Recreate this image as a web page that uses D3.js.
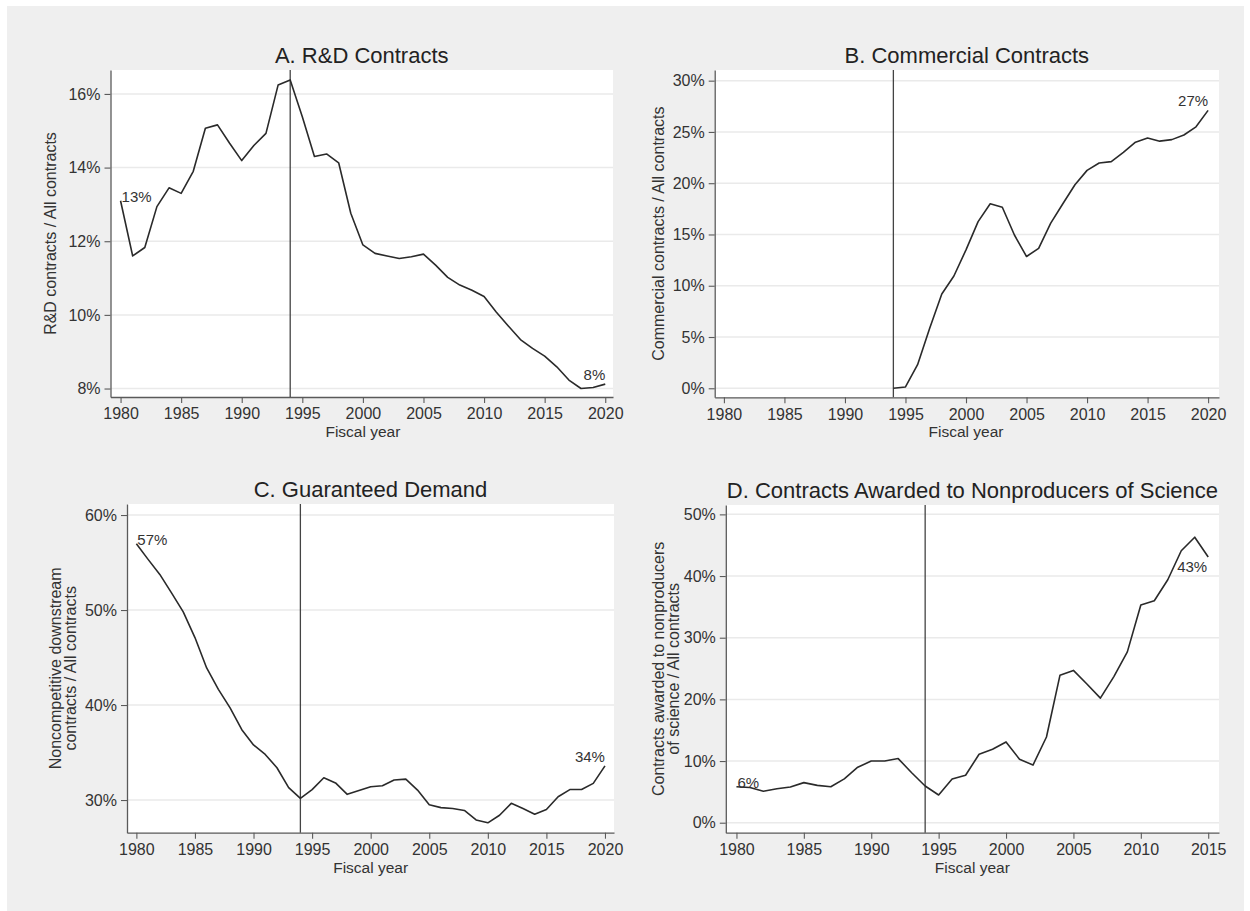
<!DOCTYPE html>
<html>
<head>
<meta charset="utf-8">
<script src="https://cdn.jsdelivr.net/npm/d3@7"></script>
<style>
  html, body { margin: 0; padding: 0; background: #ffffff; }
  svg { display: block; font-family: "Liberation Sans", Arial, sans-serif; }
</style>
</head>
<body>
<svg id="chart" width="1250" height="911"></svg>
<script>
// ---------------- DATA ----------------
const yearsFull = d3.range(1980, 2021);          // 1980..2020
const yearsCommercial = d3.range(1994, 2021);    // 1994..2020
const yearsNonproducer = d3.range(1980, 2016);   // 1980..2015

// A. R&D contracts / all contracts (%)
const rdShare = [13.1, 11.6, 11.83, 12.94, 13.45, 13.3, 13.9, 15.07, 15.16, 14.66,
                 14.19, 14.6, 14.93, 16.24, 16.38, 15.38, 14.3, 14.37, 14.13, 12.76,
                 11.9, 11.67, 11.6, 11.53, 11.58, 11.65, 11.35, 11.02, 10.81, 10.67,
                 10.5, 10.08, 9.7, 9.33, 9.09, 8.88, 8.59, 8.23, 8.0, 8.03, 8.12];

// B. Commercial contracts / all contracts (%), 1994-2020
const commercialShare = [0.0, 0.13, 2.3, 5.85, 9.2, 10.95, 13.5, 16.25, 18.0, 17.65,
                         14.95, 12.85, 13.65, 16.1, 18.0, 19.85, 21.25, 21.97, 22.1, 23.0,
                         24.0, 24.4, 24.1, 24.25, 24.7, 25.5, 27.1];

// C. Noncompetitive downstream contracts / all contracts (%)
const guaranteedShare = [56.98, 55.33, 53.75, 51.8, 49.8, 47.1, 43.9, 41.65, 39.7, 37.4,
                         35.8, 34.8, 33.4, 31.3, 30.18, 31.1, 32.35, 31.8, 30.6, 31.0,
                         31.4, 31.5, 32.1, 32.2, 31.05, 29.5, 29.2, 29.1, 28.9, 27.9,
                         27.6, 28.4, 29.65, 29.1, 28.5, 29.0, 30.35, 31.1, 31.1, 31.75, 33.6];

// D. Contracts awarded to nonproducers of science / all contracts (%), 1980-2015
const nonproducerShare = [5.84, 5.7, 5.1, 5.5, 5.8, 6.5, 6.05, 5.84, 7.1, 9.0,
                          10.0, 10.0, 10.4, 8.1, 5.95, 4.5, 7.08, 7.7, 11.1, 11.9,
                          13.1, 10.3, 9.35, 13.9, 23.9, 24.7, 22.5, 20.2, 23.7, 27.7,
                          35.3, 36.0, 39.4, 44.1, 46.3, 43.1];

const ticksA = [8, 10, 12, 14, 16];
const ticksB = [0, 5, 10, 15, 20, 25, 30];
const ticksC = [30, 40, 50, 60];
const ticksD = [0, 10, 20, 30, 40, 50];
const yearTicksFull = [1980, 1985, 1990, 1995, 2000, 2005, 2010, 2015, 2020];
const yearTicksD = [1980, 1985, 1990, 1995, 2000, 2005, 2010, 2015];

const titles = ["A. R&D Contracts", "B. Commercial Contracts", "C. Guaranteed Demand",
                "D. Contracts Awarded to Nonproducers of Science"];
const yTitles = [["R&D contracts / All contracts"],
                 ["Commercial contracts / All contracts"],
                 ["Noncompetitive downstream", "contracts / All contracts"],
                 ["Contracts awarded to nonproducers", "of science / All contracts"]];
const reformYear = 1994;

// ---------------- LAYOUT ----------------
const svg = d3.select("#chart");
svg.append("rect").attr("x", 7).attr("y", 6).attr("width", 1237).attr("height", 905)
   .attr("fill", "#efefef");

const panels = [
  { rect: {x0: 110.5, x1: 613, y0: 70, y1: 397}, xdom: [1979.17, 2020.64], ydom: [7.77, 16.65],
    yticks: ticksA, xticks: yearTicksFull, years: yearsFull, values: rdShare,
    title: titles[0], ytitle: yTitles[0], ytx: [50],
    labels: [{i: 0, pos: "start"}, {i: -1, pos: "endAbove"}] },
  { rect: {x0: 714.7, x1: 1219, y0: 70, y1: 397.3}, xdom: [1979.24, 2020.9], ydom: [-0.88, 31.04],
    yticks: ticksB, xticks: yearTicksFull, years: yearsCommercial, values: commercialShare,
    title: titles[1], ytitle: yTitles[1], ytx: [658],
    labels: [{i: -1, pos: "endAbove"}] },
  { rect: {x0: 127, x1: 614, y0: 504, y1: 832.7}, xdom: [1979.2, 2020.77], ydom: [26.56, 61.16],
    yticks: ticksC, xticks: yearTicksFull, years: yearsFull, values: guaranteedShare,
    title: titles[2], ytitle: yTitles[2], ytx: [55, 70],
    labels: [{i: 0, pos: "start"}, {i: -1, pos: "endAbove"}] },
  { rect: {x0: 725.8, x1: 1219, y0: 505, y1: 832.7}, xdom: [1979.21, 2015.8], ydom: [-1.62, 51.52],
    yticks: ticksD, xticks: yearTicksD, years: yearsNonproducer, values: nonproducerShare,
    title: titles[3], ytitle: yTitles[3], ytx: [658, 673],
    labels: [{i: 0, pos: "start"}, {i: -1, pos: "endBelow"}] }
];

const textColor = "#333333";
const axisColor = "#5a5a5a";

panels.forEach(p => {
  const r = p.rect;
  const x = d3.scaleLinear().domain(p.xdom).range([r.x0, r.x1]);
  const y = d3.scaleLinear().domain(p.ydom).range([r.y1, r.y0]);
  const g = svg.append("g");

  // plot region
  g.append("rect").attr("x", r.x0).attr("y", r.y0)
    .attr("width", r.x1 - r.x0).attr("height", r.y1 - r.y0).attr("fill", "#ffffff");

  // gridlines
  g.selectAll("line.grid").data(p.yticks).join("line")
    .attr("class", "grid")
    .attr("x1", r.x0).attr("x2", r.x1)
    .attr("y1", d => y(d)).attr("y2", d => y(d))
    .attr("stroke", "#eaeaea").attr("stroke-width", 1.5);

  // y axis
  const ya = g.append("g").attr("transform", `translate(${r.x0},0)`)
    .call(d3.axisLeft(y).tickValues(p.yticks).tickFormat(d => d + "%")
      .tickSize(6).tickSizeOuter(0).tickPadding(4));
  // x axis
  const xa = g.append("g").attr("transform", `translate(0,${r.y1})`)
    .call(d3.axisBottom(x).tickValues(p.xticks).tickFormat(d3.format("d"))
      .tickSize(6).tickSizeOuter(0).tickPadding(5));
  [ya, xa].forEach(a => {
    a.select(".domain").attr("stroke", axisColor).attr("stroke-width", 1.3);
    a.selectAll(".tick line").attr("stroke", axisColor).attr("stroke-width", 1.1);
    a.selectAll(".tick text").attr("fill", textColor)
      .style("font-size", "16px").style("font-family", "'Liberation Sans', Arial, sans-serif");
  });

  // reform line
  g.append("line").attr("x1", x(reformYear)).attr("x2", x(reformYear))
    .attr("y1", r.y0).attr("y2", r.y1)
    .attr("stroke", "#444444").attr("stroke-width", 1.3);

  // data line
  const pts = p.years.map((yr, i) => [yr, p.values[i]]);
  g.append("path").datum(pts)
    .attr("fill", "none").attr("stroke", "#2a2a2a").attr("stroke-width", 1.6)
    .attr("stroke-linejoin", "round")
    .attr("d", d3.line().x(d => x(d[0])).y(d => y(d[1])));

  // point labels
  p.labels.forEach(l => {
    const idx = l.i < 0 ? pts.length + l.i : l.i;
    const d = pts[idx];
    const px = x(d[0]), py = y(d[1]);
    const t = g.append("text").text(Math.round(d[1]) + "%")
      .attr("fill", textColor).style("font-size", "15px");
    if (l.pos === "start") t.attr("x", px + 1).attr("y", py + 1);
    else if (l.pos === "endAbove") t.attr("x", px).attr("y", py - 4).attr("text-anchor", "end");
    else t.attr("x", px - 1).attr("y", py + 15).attr("text-anchor", "end");
  });

  // title
  g.append("text").text(p.title)
    .attr("x", (r.x0 + r.x1) / 2).attr("y", r.y0 - 7)
    .attr("text-anchor", "middle").attr("fill", "#222222").style("font-size", "22px");

  // x title
  g.append("text").text("Fiscal year")
    .attr("x", x(p.xticks[0]) + (x(p.xticks[p.xticks.length - 1]) - x(p.xticks[0])) / 2)
    .attr("y", r.y1 + 40)
    .attr("text-anchor", "middle").attr("fill", textColor).style("font-size", "15.5px");

  // y title
  const cy = (r.y0 + r.y1) / 2;
  p.ytitle.forEach((line, k) => {
    g.append("text").text(line)
      .attr("transform", `translate(${p.ytx[k]},${cy}) rotate(-90)`)
      .attr("text-anchor", "middle").attr("dominant-baseline", "central")
      .attr("fill", textColor).style("font-size", "16px");
  });
});
</script>
</body>
</html>
